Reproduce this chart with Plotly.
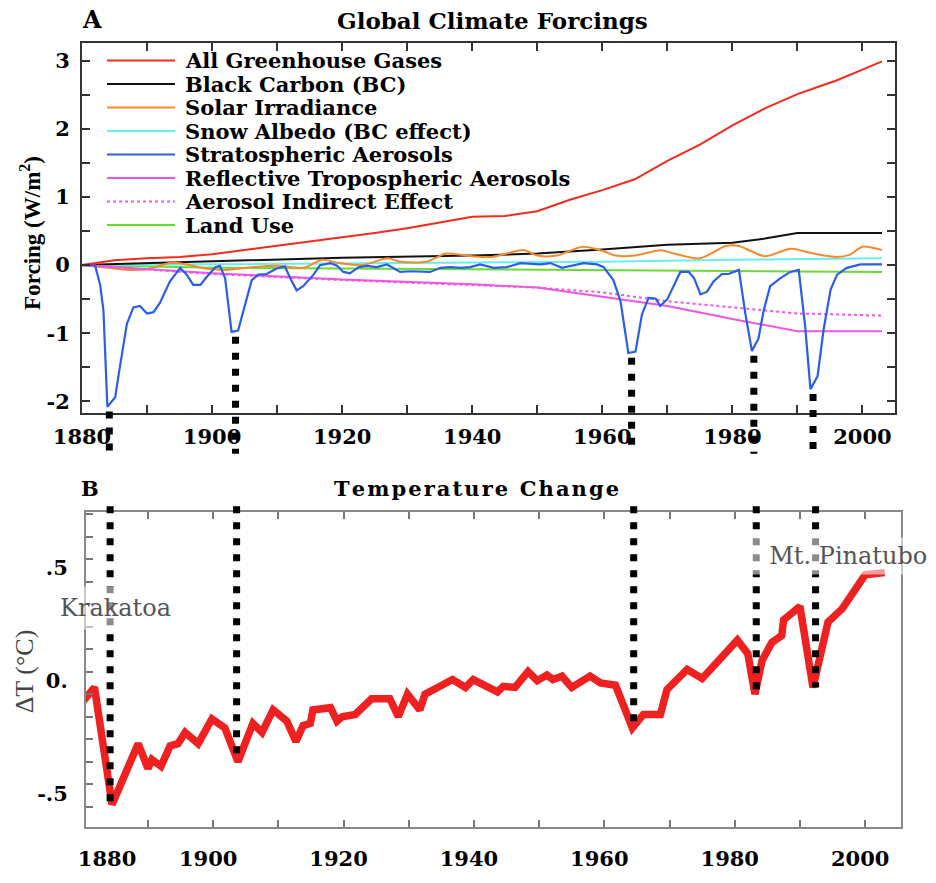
import plotly.graph_objects as go

# ---------------- data ----------------
ghg_years = [1880,1885,1890,1895,1900,1905,1910,1915,1920,1925,1930,1935,1940,1945,1950,1955,1960,1965,1970,1975,1980,1985,1990,1993,1996,2000,2003]
ghg_vals = [0,0.07,0.10,0.12,0.16,0.22,0.29,0.35,0.41,0.47,0.54,0.62,0.71,0.72,0.79,0.96,1.10,1.26,1.53,1.77,2.05,2.30,2.51,2.61,2.71,2.87,2.99]

bc_years = [1880,1900,1920,1940,1950,1960,1970,1980,1985,1990,2003]
bc_vals = [0,0.05,0.11,0.14,0.17,0.23,0.30,0.33,0.39,0.47,0.47]

solar_years = [1880,1884,1887,1890,1894,1899,1902,1906,1910,1914,1917,1919,1923,1927,1929,1933,1936,1940,1943,1948,
               1950,1953,1957,1960,1962,1965,1969,1971,1975,1979,1981,1983,1985,1989,1992,1996,1998,2000,2003]
solar_vals = [0,-0.04,-0.07,-0.06,0.04,-0.05,-0.07,-0.03,-0.01,-0.04,0.08,0.04,0.00,0.10,0.05,0.05,0.17,0.13,0.12,0.22,
              0.14,0.14,0.27,0.21,0.14,0.14,0.22,0.17,0.10,0.28,0.28,0.20,0.13,0.24,0.18,0.12,0.15,0.27,0.22]

snow_years = [1880,1900,1920,1940,1960,1980,2003]
snow_vals = [0,0.01,0.02,0.03,0.05,0.08,0.10]

strat_years = [1880,1882,1882.8,1883.3,1883.9,1885.1,1885.6,1886.9,1887.9,1888.9,1890,1891,1892,1893.5,1895.1,1896.1,1897.1,1898.2,1899.2,1900.5,
               1901.2,1902,1903,1904,1905.1,1906.1,1907.1,1908.4,1909.9,1911.2,1912,1913,1914,1915.6,1916.6,1918.2,1919.2,1920.2,1921.2,1922.5,
               1923.8,1925.3,1926.9,1927.9,1928.9,1930.5,1932,1933.5,1935.1,1936.6,1938.2,1939.7,1941.2,1943.3,1945.3,1947.4,1950.5,1952,1953.8,1955.6,
               1957.1,1959.2,1960.2,1961.7,1962.8,1964,1965.1,1966.1,1967.1,1968.2,1968.9,1970,1971,1972,1973.3,1974.1,1975.1,1976.1,1977.1,1978.4,
               1979.4,1981,1982,1983,1984,1984.8,1985.8,1987.4,1988.9,1990.2,1991.2,1992,1993.1,1994,1995.1,1996.1,1997.6,1999.7,2003]
strat_vals = [0,0,-0.29,-0.67,-2.08,-1.94,-1.63,-0.86,-0.62,-0.60,-0.71,-0.69,-0.55,-0.24,-0.04,-0.14,-0.29,-0.29,-0.17,-0.03,
              -0.01,-0.19,-0.98,-0.96,-0.57,-0.22,-0.14,-0.13,-0.05,-0.02,-0.19,-0.37,-0.31,-0.14,0,0.03,-0.01,-0.10,-0.12,-0.03,
              -0.01,-0.03,0.01,-0.04,-0.10,-0.09,-0.10,-0.10,-0.04,-0.03,-0.04,-0.03,0.01,-0.04,-0.03,0.03,0.01,0.03,-0.04,0,
              0.03,0.01,-0.03,-0.22,-0.53,-1.29,-1.27,-0.72,-0.48,-0.49,-0.60,-0.50,-0.29,-0.10,-0.10,-0.19,-0.43,-0.39,-0.24,-0.13,
              -0.13,-0.07,-0.72,-1.26,-1.08,-0.67,-0.31,-0.19,-0.10,-0.07,-0.91,-1.82,-1.63,-0.96,-0.36,-0.14,-0.04,0.01,0.01]

tropo_years = [1880,1900,1920,1940,1950,1960,1970,1980,1990,2003]
tropo_vals = [0,-0.12,-0.21,-0.28,-0.33,-0.46,-0.60,-0.79,-0.97,-0.97]

indirect_years = [1880,1900,1920,1940,1950,1960,1970,1980,1990,2003]
indirect_vals = [0,-0.13,-0.22,-0.29,-0.33,-0.40,-0.53,-0.62,-0.71,-0.74]

land_years = [1880,1900,1920,1940,1960,1980,2003]
land_vals = [0,-0.04,-0.05,-0.06,-0.08,-0.09,-0.10]

temp_years = [1879.5,1881.8,1884.5,1888.5,1890,1890.6,1892,1893.4,1894.6,1895.7,1897.7,1899.8,1901.8,1903.8,1906.1,1907.5,1909.2,1911.3,1912.7,1913.8,
              1914.9,1915.3,1918,1919,1919.8,1921.8,1924.3,1927.1,1928.4,1929.8,1931.7,1932.5,1934.8,1936.7,1938.7,1939.9,1943.6,1944.5,1946.3,1948.3,
              1949.7,1951.2,1952.1,1953.5,1955,1957.8,1959.4,1961.7,1964.3,1966,1968.6,1969.6,1972.7,1975,1980.4,1982,1983.1,1984.2,1985.7,1987.2,
              1987.5,1990,1992,1994.3,1996.5,2000,2003]
temp_vals = [-0.15,-0.07,-0.59,-0.32,-0.43,-0.39,-0.42,-0.33,-0.32,-0.27,-0.32,-0.21,-0.25,-0.40,-0.23,-0.27,-0.17,-0.22,-0.31,-0.24,
             -0.23,-0.17,-0.16,-0.22,-0.20,-0.19,-0.12,-0.12,-0.20,-0.10,-0.17,-0.10,-0.065,-0.035,-0.07,-0.035,-0.09,-0.065,-0.07,0.0,
             -0.04,-0.015,-0.035,-0.02,-0.07,-0.02,-0.05,-0.06,-0.25,-0.19,-0.19,-0.08,0.01,-0.03,0.14,0.08,-0.10,0.05,0.13,0.16,
             0.23,0.29,-0.07,0.22,0.28,0.43,0.44]

eruption_years = [1884.2, 1903.6, 1964.5, 1983.3, 1992.4]

series_names = ["All Greenhouse Gases", "Black Carbon (BC)", "Solar Irradiance", "Snow Albedo (BC effect)",
                "Stratospheric Aerosols", "Reflective Tropospheric Aerosols", "Aerosol Indirect Effect", "Land Use"]

top_xticks = [1880, 1890, 1900, 1910, 1920, 1930, 1940, 1950, 1960, 1970, 1980, 1990, 2000]
top_yticks = [-2, -1.5, -1, -0.5, 0, 0.5, 1, 1.5, 2, 2.5, 3]
bot_xlabels = ["1880", "1900", "1920", "1940", "1960", "1980", "2000"]
bot_xlabel_pos = [1884.5, 1900, 1920, 1940, 1960, 1980, 2000]
bot_xticks = [1890, 1900, 1910, 1920, 1930, 1940, 1950, 1960, 1970, 1980, 1990, 2000]
bot_ylabels = [".5", "0.", "-.5"]
bot_yticks = [0.5, 0.0, -0.5]
bot_yminor = [-0.6, -0.4, -0.3, -0.2, -0.1, 0.1, 0.2, 0.3, 0.4, 0.6, 0.7]

# ---------------- styling ----------------
SERIF = "DejaVu Serif"
TIMES = "Liberation Serif"
W, H = 936, 883
ML, MR, MT, MB = 82, 35, 43, 39
PW, PH = W - ML - MR, H - MT - MB

def px2x(px):
    return (px - ML) / PW

def px2y(py):
    return (H - MB - py) / PH

top_range = [-2.17, 3.26]
bot_range = [-0.69, 0.71]

colors = ["#f52a1a", "#111111", "#f58a2a", "#66eef0", "#2a5ee8", "#f055e6", "#f055e6", "#66dd33"]
dashes = ["solid"] * 6 + ["dot", "solid"]
xs = [ghg_years, bc_years, solar_years, snow_years, strat_years, tropo_years, indirect_years, land_years]
ys = [ghg_vals, bc_vals, solar_vals, snow_vals, strat_vals, tropo_vals, indirect_vals, land_vals]

fig = go.Figure()
draw_order = [7, 3, 1, 2, 5, 6, 4, 0]
for i in draw_order:
    fig.add_trace(go.Scatter(x=xs[i], y=ys[i], mode="lines", name=series_names[i],
                             line=dict(color=colors[i], width=2.2 if i == 4 else 2, dash=dashes[i],
                                       shape="spline" if i == 2 else "linear", smoothing=0.8),
                             xaxis="x", yaxis="y", showlegend=False))

fig.add_trace(go.Scatter(x=temp_years, y=temp_vals, mode="lines", name="Temperature",
                         line=dict(color="#ee2020", width=7.5), xaxis="x2", yaxis="y2",
                         showlegend=False))

shapes = []
annotations = []

# dotted eruption markers
def near_min(xv, yv, yr, win=1.6):
    return min(v for x, v in zip(xv, yv) if abs(x - yr) <= win)

dot_line = dict(color="black", width=7, dash="7px,9px")
for yr in eruption_years:
    top_start = max(near_min(strat_years, strat_vals, yr) - 0.07, top_range[0])
    f = (top_start - top_range[0]) / (top_range[1] - top_range[0])
    shapes.append(dict(type="line", xref="x", yref="y domain", x0=yr, x1=yr, y0=f, y1=-0.11,
                       line=dot_line, layer="above"))
    bot_end = near_min(temp_years, temp_vals, yr)
    g = (bot_end - bot_range[0]) / (bot_range[1] - bot_range[0])
    shapes.append(dict(type="line", xref="x2", yref="y2 domain", x0=yr, x1=yr, y0=1.018, y1=g,
                       line=dot_line, layer="above"))

# manual legend (sample lines + labels)
for i, name in enumerate(series_names):
    py = 61 + 24 * i
    shapes.append(dict(type="line", xref="paper", yref="paper", x0=px2x(107), x1=px2x(175),
                       y0=px2y(py), y1=px2y(py),
                       line=dict(color=colors[i], width=2, dash=dashes[i])))
    annotations.append(dict(text="<b>" + name + "</b>", xref="paper", yref="paper", x=px2x(183), y=px2y(py),
                            xanchor="left", yanchor="middle", showarrow=False,
                            font=dict(family=SERIF, size=21, color="black")))

def label(text, px, py, size, family=SERIF, color="black", angle=0, **kw):
    d = dict(text=text, xref="paper", yref="paper", x=px2x(px), y=px2y(py), xanchor="center",
             yanchor="middle", showarrow=False, textangle=angle,
             font=dict(family=family, size=size, color=color))
    d.update(kw)
    return d

annotations += [
    label("<b>A</b>", 92, 19, 24),
    label("<b>Global Climate Forcings</b>", 492, 20, 23),
    label("<b>B</b>", 90, 498, 21),
    label("<b>" + "\u200a".join("Temperature Change") + "</b>", 476, 498, 21),
    label("<b>Forcing (W/m<sup>2</sup>)</b>", 31, 237, 23, family=TIMES, angle=-90),
    label("\u0394T (\u00b0C)", 24, 685, 26, family=TIMES, color="#444444", angle=-90),
    dict(text="Krakatoa", xref="x2", yref="y2", x=1885, y=0.285, showarrow=False,
         xanchor="center", yanchor="middle",
         bgcolor="rgba(255,255,255,0.55)", borderpad=7,
         font=dict(family=SERIF, size=24, color="#555555")),
    dict(text="\u00a0\u00a0Mt. Pinatubo", xref="x2", yref="y2", x=1982.2, y=0.515, xanchor="left",
         yanchor="middle", showarrow=False, bgcolor="rgba(255,255,255,0.55)", borderpad=4,
         font=dict(family=SERIF, size=24, color="#555555")),
]

tickfont = dict(family=SERIF, size=21, color="black", weight="bold")

fig.update_layout(
    width=W, height=H, margin=dict(l=ML, r=MR, t=MT, b=MB),
    paper_bgcolor="white", plot_bgcolor="white", showlegend=False,
    shapes=shapes, annotations=annotations,
    xaxis=dict(domain=[0, px2x(895)], range=[1880, 2005], anchor="y",
               tickmode="array", tickvals=top_xticks,
               ticktext=[str(t) if t % 20 == 0 else "" for t in top_xticks],
               ticks="inside", ticklen=8, tickwidth=2, tickcolor="#333",
               showline=True, linecolor="#333", linewidth=2, mirror="ticks",
               showgrid=False, zeroline=False, tickfont=tickfont, ticklabelstandoff=4),
    yaxis=dict(domain=[px2y(421), 1], range=top_range, anchor="x",
               tickmode="array", tickvals=top_yticks,
               ticktext=[str(int(t)) if t == int(t) else "" for t in top_yticks],
               ticks="inside", ticklen=8, tickwidth=2, tickcolor="#333",
               showline=True, linecolor="#333", linewidth=2, mirror="ticks",
               showgrid=False, zeroline=False, tickfont=tickfont, ticklabelstandoff=6),
    xaxis2=dict(domain=[px2x(86), 1], range=[1880.5, 2005.5], anchor="y2",
                tickmode="array", tickvals=bot_xlabel_pos,
                ticktext=bot_xlabels, ticks="inside", ticklen=0, ticklabelshift=-5,
                minor=dict(tickmode="array", tickvals=bot_xticks,
                           ticks="inside", ticklen=7, tickwidth=2, tickcolor="#777"),
                showline=True, linecolor="#888", linewidth=2, mirror="ticks",
                showgrid=False, zeroline=False, tickfont=tickfont, ticklabelstandoff=12),
    yaxis2=dict(domain=[0, px2y(522)], range=bot_range, anchor="x2",
                tickmode="array", tickvals=bot_yticks, ticktext=bot_ylabels,
                ticks="inside", ticklen=7, tickwidth=2, tickcolor="#777", ticklabelshift=9,
                minor=dict(tickmode="array", tickvals=bot_yminor,
                           ticks="inside", ticklen=7, tickwidth=2, tickcolor="#777"),
                showline=True, linecolor="#888", linewidth=2, mirror=True,
                showgrid=False, zeroline=False, tickfont=tickfont, ticklabelstandoff=12),
)

# remove the default page margin so the figure fills the 936x883 window exactly
fig.write_html("out.html", config={"displayModeBar": False},
               post_script="document.body.style.margin='0px';document.body.style.overflow='hidden';")
